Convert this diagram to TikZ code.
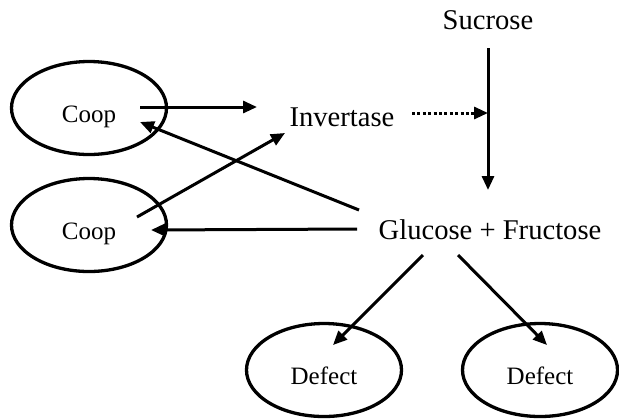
\documentclass[tikz,border=0pt]{standalone}
\usepackage{fontspec}
\setmainfont{Liberation Serif}
\usepackage{tikz}
\usetikzlibrary{arrows.meta,shapes.geometric}

\begin{document}
\begin{tikzpicture}[x=0.5pt,y=-0.5pt,>={Triangle[length=7pt,width=6pt]},
	cell/.style={ellipse,draw,line width=1.65pt,minimum width=77.5pt,minimum height=46.5pt,inner sep=0pt,text height=14pt,text depth=0pt,font=\fontsize{12.5}{14}\selectfont},
	chem/.style={inner sep=0pt,font=\fontsize{14.3}{16}\selectfont},
	flow/.style={->,line width=1.5pt}] % sucrose / invertase
	\useasboundingbox (0,0) rectangle (619,419);
	
	\foreach \i/\y in {1/108,2/225}{
		\node[cell] (coop\i) at (89,\y) {Coop};
	}
	\foreach \i/\x in {1/324,2/540}{
		\node[cell] (defect\i) at (\x,370) {Defect};
	}
	
	\node[chem] (sucrose) at (488,20) {Sucrose};
	\node[chem] (invertase) at (342,117) {Invertase};
	\node[chem] (glucose) at (490,230) {Glucose + Fructose};
	\coordinate (cut) at (488,113);
	
	\draw[flow] ([shift={(51,-1)}] coop1.center)--([shift={(-85,-10)}] invertase.center);
	\draw[flow] ([shift={(48,-8)}] coop2.center)--([shift={(-57,16)}] invertase.center);
	\draw[flow] ([shift={(-131,-20)}] glucose.center)--([shift={(51,14)}] coop1.center);
	\draw[flow] ([shift={(-133,-1)}] glucose.center)--([shift={(62,5)}] coop2.center);
	
	\draw[flow] ([shift={(0,28)}] sucrose.center)--([shift={(-2,-40)}] glucose.center);
	\draw[flow,dash pattern=on 1.5pt off 1.2pt] ([shift={(70,-4)}] invertase.center)--(cut);
	
	\draw[flow] ([shift={(-67,25)}] glucose.center)--([shift={(9,-25)}] defect1.center);
	\draw[flow] ([shift={(-32,25)}] glucose.center)--([shift={(7,-25)}] defect2.center);
\end{tikzpicture}
\end{document}
